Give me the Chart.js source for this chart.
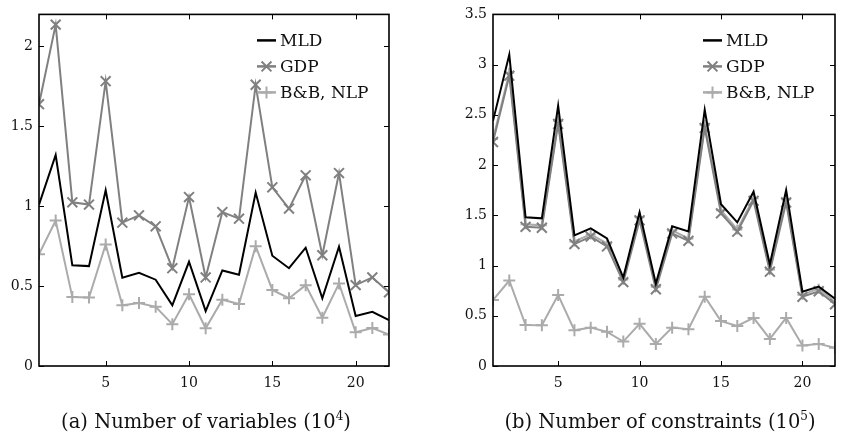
<!DOCTYPE html>
<html>
<head>
<meta charset="utf-8">
<script src="https://cdn.jsdelivr.net/npm/chart.js@4.4.1/dist/chart.umd.min.js"></script>
<style>
  body { margin: 0; background: #fff; }
  .box { position: absolute; top: 0; height: 439px; }
  .cap { position: absolute; top: 409px; font-family: "DejaVu Serif", serif; font-size: 19.5px; color: #111; text-align: center; white-space: nowrap; }
  .cap sup { font-size: 12px; }
</style>
</head>
<body>
<div class="box" style="left:0;width:420px"><canvas id="varsChart"></canvas></div>
<div class="box" style="left:420px;width:424px"><canvas id="consChart"></canvas></div>
<div class="cap" style="left:36px;width:340px">(a) Number of variables (10<sup>4</sup>)</div>
<div class="cap" style="left:485px;width:350px">(b) Number of constraints (10<sup>5</sup>)</div>
<script>
// instance index on the x axis
const caseIndex = [1, 2, 3, 4, 5, 6, 7, 8, 9, 10, 11, 12, 13, 14, 15, 16, 17, 18, 19, 20, 21, 22];
const xTicks = [5, 10, 15, 20];

// (a) number of variables
const varsMLD = [1.01, 1.32, 0.63, 0.625, 1.10, 0.553, 0.583, 0.54, 0.38, 0.652, 0.343, 0.598, 0.571, 1.085, 0.69, 0.612, 0.74, 0.424, 0.746, 0.313, 0.339, 0.287];
const varsGDP = [1.638, 2.136, 1.024, 1.01, 1.782, 0.897, 0.943, 0.874, 0.612, 1.057, 0.554, 0.963, 0.922, 1.76, 1.118, 0.985, 1.193, 0.693, 1.207, 0.506, 0.554, 0.461];
const varsBB = [0.699, 0.91, 0.431, 0.429, 0.76, 0.38, 0.394, 0.37, 0.262, 0.449, 0.236, 0.415, 0.388, 0.75, 0.476, 0.424, 0.506, 0.302, 0.516, 0.211, 0.238, 0.197];
const varsYTicks = [0, 0.5, 1, 1.5, 2];

// (b) number of constraints
const consMLD = [2.44, 3.10, 1.48, 1.47, 2.59, 1.30, 1.37, 1.27, 0.88, 1.53, 0.82, 1.39, 1.34, 2.55, 1.61, 1.43, 1.735, 1.01, 1.75, 0.74, 0.79, 0.67];
const consGDP = [2.23, 2.89, 1.385, 1.376, 2.41, 1.214, 1.288, 1.19, 0.835, 1.45, 0.764, 1.32, 1.246, 2.37, 1.52, 1.337, 1.644, 0.939, 1.628, 0.689, 0.744, 0.615];
const consBB = [0.657, 0.851, 0.408, 0.405, 0.706, 0.355, 0.382, 0.34, 0.243, 0.42, 0.22, 0.382, 0.366, 0.689, 0.447, 0.398, 0.479, 0.269, 0.479, 0.204, 0.22, 0.181];
// light grey trace hidden under the GDP line (no legend entry)
const consShadow = [2.26, 2.92, 1.41, 1.40, 2.44, 1.24, 1.31, 1.22, 0.86, 1.48, 0.79, 1.35, 1.27, 2.40, 1.55, 1.36, 1.67, 0.96, 1.66, 0.71, 0.77, 0.64];
const consYTicks = [0, 0.5, 1, 1.5, 2, 2.5, 3, 3.5];

const FONT = "DejaVu Serif";
const BLACK = "#000000", MID = "#808080", LIGHT = "#ababab";

function pts(values) {
  return values.map((v, i) => ({ x: caseIndex[i], y: v }));
}

function series(label, values, color, style, radius) {
  return {
    label,
    data: pts(values),
    borderColor: color,
    backgroundColor: color,
    borderWidth: 2,
    pointStyle: style,
    pointRadius: radius,
    pointBorderWidth: 2,
    pointBorderColor: color,
    tension: 0,
  };
}

// box round the plot, inward ticks on all four sides, legend in the top right
const framePlugin = {
  id: "frame",
  afterDatasetsDraw(chart) {
    const { ctx, chartArea: a, scales: { x, y } } = chart;
    ctx.save();
    ctx.strokeStyle = "#000";
    ctx.lineWidth = 1;
    ctx.beginPath();
    x.ticks.forEach((t) => {
      const px = Math.round(x.getPixelForValue(t.value)) + 0.5;
      ctx.moveTo(px, a.bottom); ctx.lineTo(px, a.bottom - 5);
      ctx.moveTo(px, a.top); ctx.lineTo(px, a.top + 5);
    });
    y.ticks.forEach((t) => {
      const py = Math.round(y.getPixelForValue(t.value)) + 0.5;
      ctx.moveTo(a.left, py); ctx.lineTo(a.left + 5, py);
      ctx.moveTo(a.right, py); ctx.lineTo(a.right - 5, py);
    });
    ctx.stroke();
    ctx.lineWidth = 1.6;
    ctx.strokeRect(a.left, a.top, a.right - a.left, a.bottom - a.top);

    // legend
    const items = chart.data.datasets.filter((d) => d.label);
    const x0 = a.right - 132;
    ctx.font = `17px "${FONT}"`;
    ctx.textBaseline = "middle";
    ctx.textAlign = "left";
    items.forEach((d, i) => {
      const yy = a.top + 26 + i * 26;
      ctx.strokeStyle = d.borderColor;
      ctx.lineWidth = 2.5;
      ctx.beginPath();
      ctx.moveTo(x0, yy); ctx.lineTo(x0 + 19, yy);
      ctx.stroke();
      if (d.pointRadius > 0) {
        ctx.lineWidth = 2;
        Chart.helpers.drawPoint(ctx, { pointStyle: d.pointStyle, radius: d.pointRadius, rotation: 0, borderWidth: 2 }, x0 + 9.5, yy);
      }
      ctx.fillStyle = "#111";
      ctx.fillText(d.label, x0 + 23, yy + 1);
    });
    ctx.restore();
  },
};

function makeChart(id, datasets, yMax, yTicks, axisWidth, pad) {
  return new Chart(document.getElementById(id), {
    type: "line",
    data: { datasets },
    options: {
      responsive: true,
      maintainAspectRatio: false,
      animation: false,
      layout: { padding: pad },
      plugins: { legend: { display: false }, tooltip: { enabled: false } },
      elements: { line: { borderJoinStyle: "miter" } },
      scales: {
        x: {
          type: "linear",
          min: 1,
          max: 22,
          grid: { display: false, drawTicks: false },
          border: { display: false },
          afterBuildTicks: (s) => { s.ticks = xTicks.map((v) => ({ value: v })); },
          afterFit: (s) => { s.height = 73; },
          ticks: { padding: 9, color: "#111", font: { family: FONT, size: 14 }, maxRotation: 0, callback: (v) => String(v) },
        },
        y: {
          min: 0,
          max: yMax,
          grid: { display: false, drawTicks: false },
          border: { display: false },
          afterBuildTicks: (s) => { s.ticks = yTicks.map((v) => ({ value: v })); },
          afterFit: (s) => { s.width = axisWidth; },
          ticks: { padding: 6, color: "#111", font: { family: FONT, size: 14 }, callback: (v) => String(v) },
        },
      },
    },
    plugins: [framePlugin],
  });
}

makeChart("varsChart", [
  series("MLD", varsMLD, BLACK, "line", 0),
  series("GDP", varsGDP, MID, "crossRot", 7),
  series("B&B, NLP", varsBB, LIGHT, "cross", 6),
], 2.2, varsYTicks, 39, { top: 5, right: 31, left: 0, bottom: 0 });

makeChart("consChart", [
  series("MLD", consMLD, BLACK, "line", 0),
  series("GDP", consGDP, MID, "crossRot", 7),
  series("B&B, NLP", consBB, LIGHT, "cross", 6),
  series("", consShadow, LIGHT, "cross", 5),
], 3.5, consYTicks, 73, { top: 5.5, right: 1.5, left: 0, bottom: 0 });
</script>
</body>
</html>
